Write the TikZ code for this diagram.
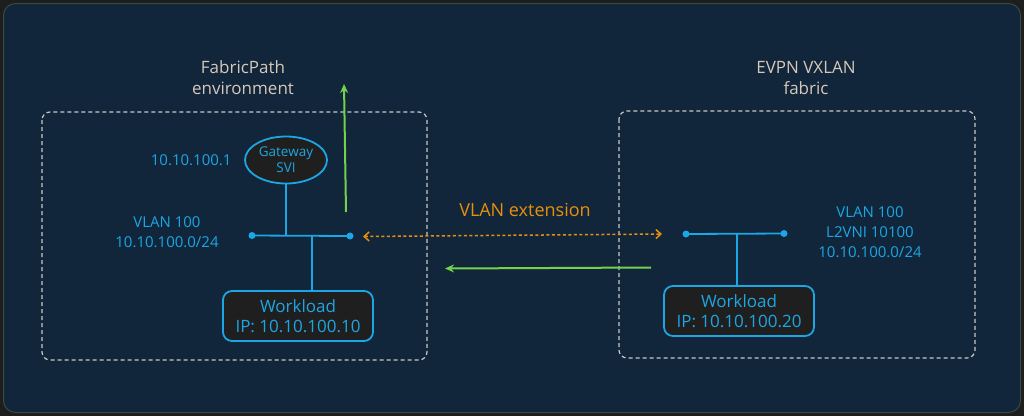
\documentclass[tikz,border=0pt]{standalone}
\usepackage{fontspec}
\setmainfont{Open Sans}
\usetikzlibrary{arrows.meta,shapes.geometric}
\definecolor{outerbg}{HTML}{1C1E1F}
\definecolor{panel}{HTML}{11263A}
\definecolor{panelborder}{HTML}{3A4A3E}
\definecolor{cyanb}{HTML}{1BA6E6}
\definecolor{beige}{HTML}{D6C8BA}
\definecolor{orangec}{HTML}{E8900C}
\definecolor{greenc}{HTML}{74D14C}
\definecolor{dashgray}{HTML}{C8C8C8}
\definecolor{boxfill}{HTML}{1F1F1F}
\tikzset{
  regionbox/.style={draw=dashgray, dashed, dash pattern=on 4pt off 3pt, line width=1.2pt, rounded corners=8pt},
  titletext/.style={text=beige, font=\fontsize{17}{21}\selectfont, align=center},
  bluetext/.style={text=cyanb, font=\fontsize{15}{20}\selectfont, align=center},
  wlbox/.style={draw=cyanb, fill=boxfill, line width=1.8pt, rounded corners=9pt, minimum width=150pt, minimum height=50pt, inner sep=2pt, text=cyanb, font=\fontsize{17}{20}\selectfont, align=center},
  gwnode/.style={draw=cyanb, fill=boxfill, ellipse, line width=1.8pt, minimum width=82pt, minimum height=47pt, inner sep=0pt, text=cyanb, font=\fontsize{13.5}{16}\selectfont, align=center},
  wire/.style={draw=cyanb, line width=1.8pt},
  busdot/.style={circle, fill=cyanb, inner sep=0pt, minimum size=7pt},
  greenarrow/.style={draw=greenc, line width=2pt, -{Stealth[length=9pt,width=8pt,open]}},
  orangearrow/.style={draw=orangec, line width=1.5pt, dash pattern=on 3pt off 2.5pt, {Straight Barb[length=5pt,width=9pt]}-{Straight Barb[length=5pt,width=9pt]}},
}
\begin{document}
\begin{tikzpicture}[x=1pt,y=-1pt]
\useasboundingbox (0,0) rectangle (1024,416);
\fill[outerbg] (0,0) rectangle (1024,416);
\draw[panelborder, fill=panel, line width=1pt, rounded corners=12pt] (3.5,3.5) rectangle (1020.5,412.5);

% region boxes
\draw[regionbox] (42,112) rectangle (427,360);
\draw[regionbox] (619,111) rectangle (975,358);

% titles
\node[titletext] (t1) at (243,78) {FabricPath\\environment};
\node[titletext] (t2) at (806,78) {EVPN VXLAN\\fabric};

% left side
\node[gwnode] (gw) at (286,160) {Gateway\\SVI};
\node[bluetext, anchor=east] (gwip) at (235,160) {10.10.100.1};
\node[busdot] (lb1) at (252,235.5) {};
\node[busdot] (lb2) at (350,236) {};
\draw[wire] (lb1.center) -- (lb2.center);
\coordinate (lgwb) at (286,235.5);
\coordinate (lwt) at (312,236);
\draw[wire] (gw.south) -- (lgwb);
\node[wlbox] (wl1) at (298,316) {Workload\\IP: 10.10.100.10};
\draw[wire] (lwt) -- (lwt |- wl1.north);
\node[bluetext] (lvlan) at (167,232) {VLAN 100\\10.10.100.0/24};

% green up arrow
\coordinate (gu1) at (346,212);
\coordinate (gu2) at (344,84);
\draw[greenarrow] (gu1) -- (gu2);

% right side
\node[busdot] (rb1) at (686,234) {};
\node[busdot] (rb2) at (784,233.5) {};
\draw[wire] (rb1.center) -- (rb2.center);
\coordinate (rwt) at (737,234);
\node[wlbox] (wl2) at (739,311) {Workload\\IP: 10.10.100.20};
\draw[wire] (rwt) -- (rwt |- wl2.north);
\node[bluetext] (rvlan) at (870,232) {VLAN 100\\L2VNI 10100\\10.10.100.0/24};

% VLAN extension
\coordinate (oe1) at (363,236.5);
\coordinate (oe2) at (662,234);
\draw[orangearrow] (oe1) -- (oe2);
\node[text=orangec, font=\fontsize{18}{22}\selectfont] (ext) at (525,210) {VLAN extension};

% green left arrow
\coordinate (gl1) at (651,267.5);
\coordinate (gl2) at (445,268.5);
\draw[greenarrow] (gl1) -- (gl2);
\end{tikzpicture}
\end{document}
